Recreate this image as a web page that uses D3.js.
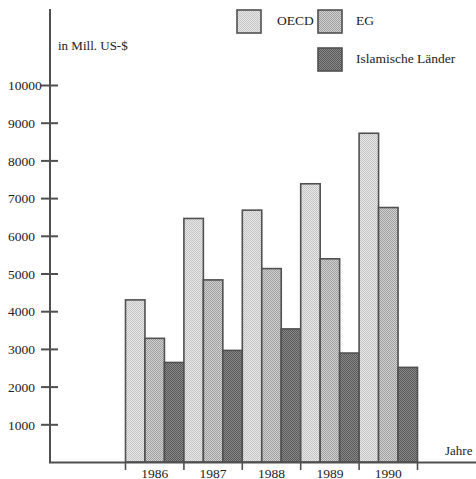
<!DOCTYPE html>
<html>
<head>
<meta charset="utf-8">
<script src="https://cdn.jsdelivr.net/npm/d3@7"></script>
<style>
  html, body { margin: 0; padding: 0; background: #fff; }
  svg { display: block; }
  text { font-family: "Liberation Serif", "Times New Roman", serif; fill: #222; }
</style>
</head>
<body>
<svg id="chart" width="476" height="479"></svg>
<script>
const years = ["1986", "1987", "1988", "1989", "1990"];
const seriesNames = ["OECD", "EG", "Islamische Länder"];
const oecd = [4300, 6460, 6680, 7380, 8720];
const eg = [3280, 4830, 5130, 5390, 6750];
const islam = [2640, 2960, 3530, 2890, 2510];
const yTicks = [1000, 2000, 3000, 4000, 5000, 6000, 7000, 8000, 9000, 10000];
const yLabel = "in Mill. US-$";
const xLabel = "Jahre";

const svg = d3.select("#chart");
const ink = "#505050";

// patterns (stippled look)
const defs = svg.append("defs");
const pat = [
  {id: "p0", a: "#e6e6e6", b: "#c6c6c6"},
  {id: "p1", a: "#d0d0d0", b: "#a0a0a0"},
  {id: "p2", a: "#888888", b: "#5a5a5a"}
];
pat.forEach(p => {
  const g = defs.append("pattern").attr("id", p.id).attr("width", 2).attr("height", 2)
    .attr("patternUnits", "userSpaceOnUse");
  g.append("rect").attr("width", 2).attr("height", 2).attr("fill", p.a);
  g.append("rect").attr("width", 1).attr("height", 1).attr("fill", p.b);
  g.append("rect").attr("x", 1).attr("y", 1).attr("width", 1).attr("height", 1).attr("fill", p.b);
});
const fills = seriesNames.map((_, i) => `url(#p${i})`);

const y = d3.scaleLinear().domain([0, 10000]).range([462, 85]);
const x0 = d3.scaleBand().domain(years).range([125.5, 417.5]).paddingInner(0).paddingOuter(0);
const x1 = d3.scaleBand().domain(seriesNames).range([0, x0.bandwidth()]).padding(0);
const values = [oecd, eg, islam];

// bars
years.forEach((yr, i) => {
  seriesNames.forEach((s, j) => {
    svg.append("rect")
      .attr("x", x0(yr) + x1(s))
      .attr("y", y(values[j][i]))
      .attr("width", x1.bandwidth())
      .attr("height", y(0) - y(values[j][i]))
      .attr("fill", fills[j])
      .attr("stroke", ink)
      .attr("stroke-width", 1.6);
  });
});

// y axis
const axisX = 50;
svg.append("line").attr("x1", axisX).attr("x2", axisX).attr("y1", 9).attr("y2", 463)
  .attr("stroke", ink).attr("stroke-width", 2);
const yAxis = svg.append("g").attr("transform", `translate(${axisX},0)`)
  .call(d3.axisLeft(y).tickValues(yTicks).tickSize(9).tickFormat(d3.format("d")));
yAxis.select(".domain").remove();
yAxis.selectAll(".tick line").attr("x1", -9).attr("x2", 8).attr("stroke", ink).attr("stroke-width", 2);
yAxis.selectAll(".tick text")
  .attr("text-anchor", "start").attr("x", 8 - axisX).attr("dy", "0.35em")
  .style("font-family", '"Liberation Serif", serif').style("font-size", "13.5px").attr("fill", "#222");

// x axis
svg.append("line").attr("x1", axisX - 1).attr("x2", 476).attr("y1", 462.5).attr("y2", 462.5)
  .attr("stroke", ink).attr("stroke-width", 2);
const bounds = years.map(d => x0(d)).concat([x0(years[years.length - 1]) + x0.bandwidth()]);
svg.selectAll(".xt").data(bounds).enter().append("line")
  .attr("x1", d => d).attr("x2", d => d).attr("y1", 462).attr("y2", 470)
  .attr("stroke", ink).attr("stroke-width", 1.6);
const xAxis = svg.append("g").attr("transform", "translate(0,462)")
  .call(d3.axisBottom(x0).tickSize(0));
xAxis.select(".domain").remove();
xAxis.selectAll(".tick text").attr("y", 0).attr("dy", "15.5px")
  .style("font-family", '"Liberation Serif", serif').style("font-size", "13.5px").attr("fill", "#222");

// labels
svg.append("text").attr("x", 58).attr("y", 50).style("font-size", "13px").text(yLabel);
svg.append("text").attr("x", 445).attr("y", 455).style("font-size", "13px").text(xLabel);

// legend
const legend = [
  {box: [237, 10], text: [277, 25]},
  {box: [318, 10], text: [356, 25]},
  {box: [318, 48], text: [356, 63]}
];
legend.forEach((l, i) => {
  svg.append("rect").attr("x", l.box[0]).attr("y", l.box[1]).attr("width", 24).attr("height", 23)
    .attr("fill", fills[i]).attr("stroke", ink).attr("stroke-width", 1.6);
  svg.append("text").attr("x", l.text[0]).attr("y", l.text[1]).style("font-size", "13.5px").text(seriesNames[i]);
});
</script>
</body>
</html>
